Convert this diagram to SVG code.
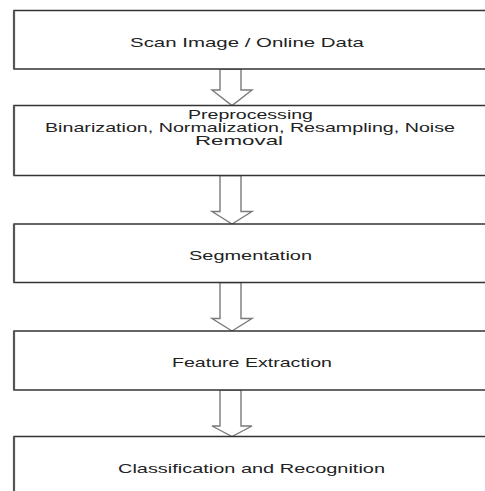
<svg xmlns="http://www.w3.org/2000/svg" width="485" height="491" viewBox="0 0 485 491">
<style>
.box{fill:#fff;stroke:#333;stroke-width:1.4}
.edge{stroke:#555;stroke-width:2.2}
.arrow{fill:#fff;stroke:#7a7a7a;stroke-width:1.4;stroke-linejoin:miter}
.t{font-family:"Liberation Sans",Arial,sans-serif;font-size:12.6px;fill:#222}
</style>
<rect width="485" height="491" fill="#fff"/>
<g id="connectors">
<polygon class="arrow" points="220,69 241,69 241,90 252,90 232,105.5 212,90 220,90"/>
<polygon class="arrow" points="220,175.5 241,175.5 241,211.5 252,211.5 232,224 212,211.5 220,211.5"/>
<polygon class="arrow" points="220,282.5 241,282.5 241,318.5 252,318.5 232,331 212,318.5 220,318.5"/>
<polygon class="arrow" points="220,390 241,390 241,426 252,426 232,436.5 212,426 220,426"/>
</g>
<g id="node1">
<path class="box" d="M500,10.5 H14 V69 H500"/>
<line class="edge" x1="14" y1="10.5" x2="14" y2="69"/>
<text class="t" x="130" y="46.5" textLength="234" lengthAdjust="spacingAndGlyphs">Scan Image / Online Data</text>
</g>
<g id="node2">
<path class="box" d="M500,105.5 H14 V175.5 H500"/>
<line class="edge" x1="14" y1="105.5" x2="14" y2="175.5"/>
<text class="t" x="188" y="118.5" textLength="125" lengthAdjust="spacingAndGlyphs">Preprocessing</text>
<text class="t" x="45" y="131.8" textLength="410" lengthAdjust="spacingAndGlyphs">Binarization, Normalization, Resampling, Noise</text>
<text class="t" x="195" y="145" textLength="88" lengthAdjust="spacingAndGlyphs">Removal</text>
</g>
<g id="node3">
<path class="box" d="M500,224 H14 V282.5 H500"/>
<line class="edge" x1="14" y1="224" x2="14" y2="282.5"/>
<text class="t" x="189" y="260" textLength="123" lengthAdjust="spacingAndGlyphs">Segmentation</text>
</g>
<g id="node4">
<path class="box" d="M500,331 H14 V390 H500"/>
<line class="edge" x1="14" y1="331" x2="14" y2="390"/>
<text class="t" x="172" y="366.5" textLength="160" lengthAdjust="spacingAndGlyphs">Feature Extraction</text>
</g>
<g id="node5">
<path class="box" d="M500,436.5 H14 V500"/>
<line class="edge" x1="14" y1="436.5" x2="14" y2="500"/>
<text class="t" x="118" y="473" textLength="267" lengthAdjust="spacingAndGlyphs">Classification and Recognition</text>
</g>
</svg>
